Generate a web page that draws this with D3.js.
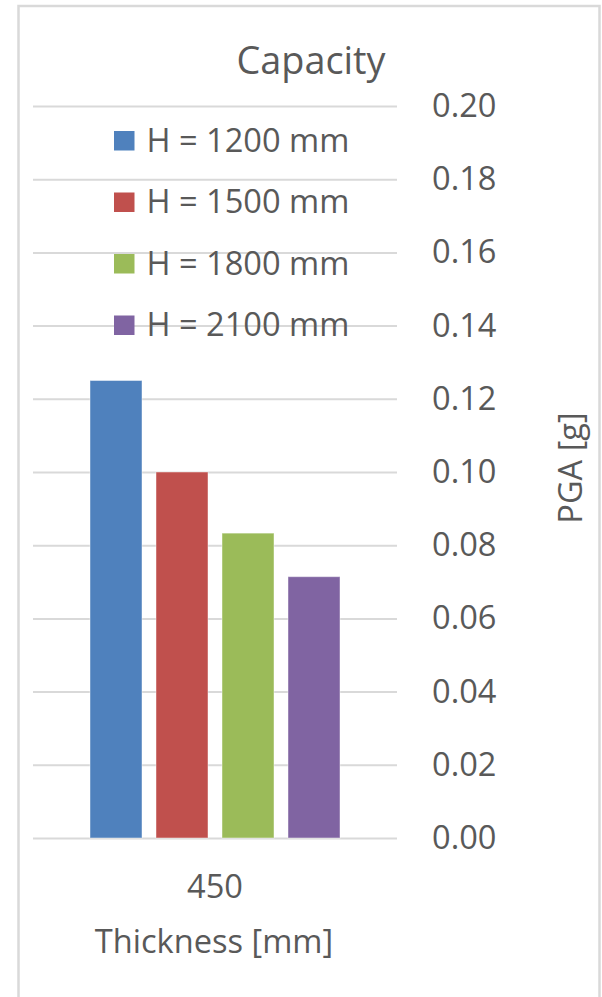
<!DOCTYPE html>
<html>
<head>
<meta charset="utf-8">
<script src="https://cdn.jsdelivr.net/npm/d3@7"></script>
<style>
  html, body { margin: 0; padding: 0; background: #fff; }
  svg { display: block; }
  text { font-family: "Open Sans", sans-serif; fill: #595959; }
</style>
</head>
<body>
<svg id="chart" width="602" height="997"></svg>
<script>
// ---- data ----
const categories = ["450"];
const seriesNames = ["H = 1200 mm", "H = 1500 mm", "H = 1800 mm", "H = 2100 mm"];
const seriesValues = [0.125, 0.100, 0.0833, 0.0714];
const seriesColors = ["#4f81bd", "#c0504d", "#9bbb59", "#8064a2"];
const yTicks = [0.00, 0.02, 0.04, 0.06, 0.08, 0.10, 0.12, 0.14, 0.16, 0.18, 0.20];
const chartTitle = "Capacity";
const xTitle = "Thickness [mm]";
const yTitle = "PGA [g]";

// ---- layout ----
const svg = d3.select("#chart");
const plot = { left: 33, right: 397, top: 106, bottom: 838 };
const fontSize = 32.6;

// chart border
svg.append("rect")
  .attr("x", 18.5).attr("y", 6)
  .attr("width", 581).attr("height", 1010)
  .attr("fill", "#fff")
  .attr("stroke", "#d9d9d9").attr("stroke-width", 2.5);

const y = d3.scaleLinear().domain([0, 0.2]).range([plot.bottom, plot.top]);
const x0 = d3.scaleBand().domain(categories).range([plot.left, plot.right])
  .paddingInner(0).paddingOuter(0.228);
const x1 = d3.scaleBand().domain(seriesNames).range([0, x0.bandwidth()])
  .paddingInner(14 / 66).paddingOuter(0);
const color = d3.scaleOrdinal().domain(seriesNames).range(seriesColors);

// gridlines
const grid = svg.append("g")
  .attr("transform", `translate(${plot.left},0)`)
  .call(d3.axisLeft(y).tickValues(yTicks).tickSize(-(plot.right - plot.left)).tickFormat(""));
grid.select(".domain").remove();
grid.selectAll(".tick line").attr("stroke", "#d9d9d9").attr("stroke-width", 2);

// bars
const data = seriesNames.map((s, i) => ({ series: s, value: seriesValues[i] }));
svg.append("g")
  .selectAll("g")
  .data(categories)
  .join("g")
  .attr("transform", d => `translate(${x0(d)},0)`)
  .selectAll("rect")
  .data(data)
  .join("rect")
  .attr("x", d => x1(d.series))
  .attr("y", d => y(d.value))
  .attr("width", x1.bandwidth())
  .attr("height", d => y(0) - y(d.value))
  .attr("fill", d => color(d.series))
  .attr("stroke", "rgba(255,255,255,0.45)")
  .attr("stroke-width", 1);

// y axis on right
const yAxis = svg.append("g")
  .attr("transform", `translate(${plot.right},0)`)
  .call(d3.axisRight(y).tickValues(yTicks).tickSize(0).tickPadding(35)
    .tickFormat(d3.format(".2f")));
yAxis.select(".domain").remove();
yAxis.selectAll("text")
  .style("font-family", "'Open Sans', sans-serif")
  .attr("font-size", fontSize).attr("fill", "#595959");

// x axis
const xAxis = svg.append("g")
  .attr("transform", `translate(0,${plot.bottom})`)
  .call(d3.axisBottom(x0).tickSize(0).tickPadding(36.7));
xAxis.select(".domain").remove();
xAxis.selectAll("text")
  .style("font-family", "'Open Sans', sans-serif")
  .attr("font-size", fontSize).attr("fill", "#595959");

// titles
svg.append("text")
  .attr("x", 311).attr("y", 73.5)
  .attr("text-anchor", "middle")
  .attr("font-size", 37.8)
  .text(chartTitle);

svg.append("text")
  .attr("x", (plot.left + plot.right) / 2 - 1).attr("y", 953)
  .attr("text-anchor", "middle")
  .attr("font-size", fontSize)
  .text(xTitle);

svg.append("text")
  .attr("transform", `translate(582,468) rotate(-90)`)
  .attr("text-anchor", "middle")
  .attr("font-size", fontSize)
  .text(yTitle);

// legend
const legend = svg.append("g").attr("transform", "translate(114,131)");
const legendRow = d3.scalePoint().domain(seriesNames).range([0, 184.5]);
const items = legend.selectAll("g")
  .data(seriesNames)
  .join("g")
  .attr("transform", d => `translate(0,${legendRow(d)})`);
items.append("rect")
  .attr("width", 20.5).attr("height", 19.5)
  .attr("fill", d => color(d));
items.append("text")
  .attr("x", 32.5).attr("y", 20.5)
  .attr("font-size", fontSize)
  .text(d => d);
</script>
</body>
</html>
